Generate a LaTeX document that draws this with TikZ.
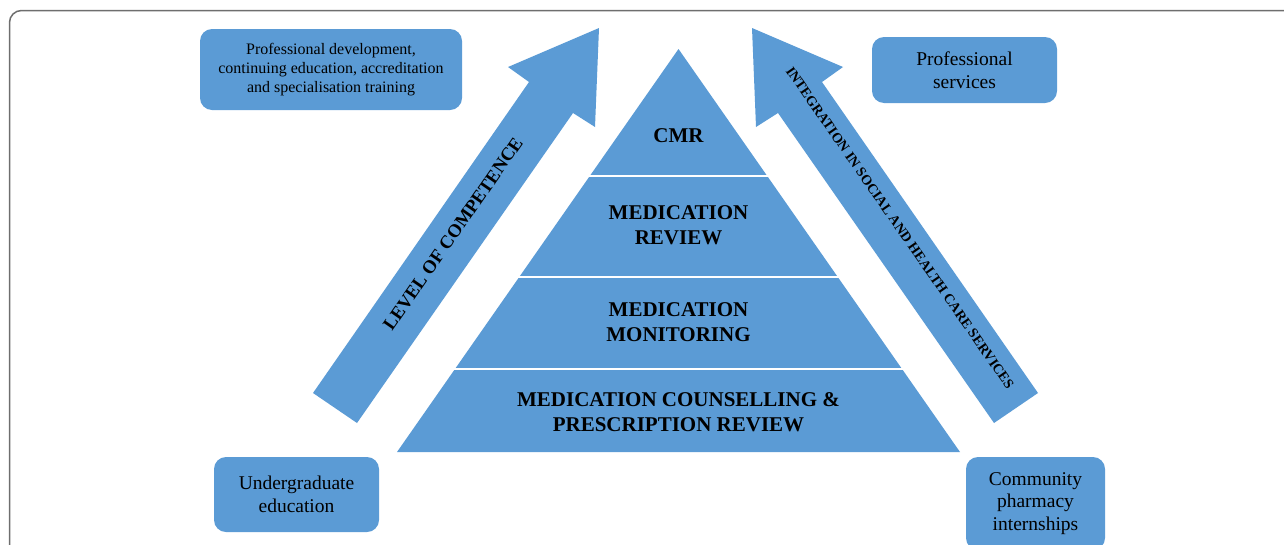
\documentclass[tikz,border=0pt]{standalone}
\usepackage{fontspec}
\setmainfont{Liberation Serif}
\definecolor{azul}{HTML}{5B9BD5}
\definecolor{marco}{HTML}{6E6E6E}
\tikzset{
	caja/.style={fill=azul, rounded corners=12pt, align=center, inner sep=0pt},
	banda/.style={font=\fontsize{21}{24.5}\selectfont\bfseries, align=center},
	letrero/.style={font=\fontsize{19.5}{22.5}\selectfont},
}

\begin{document}
\begin{tikzpicture}[x=1pt, y=-1pt]
	\useasboundingbox (0,0) rectangle (1284,544);
	\draw[marco, line width=1.5pt, rounded corners=12pt] (9.5,560) -- (9.5,10.5) -- (1290,10.5); % marco

	% flechas
	\fill[azul] (313,393) -- (529,82) -- (508,67) -- (599,28) -- (595,127) -- (573,113) -- (357,423) -- cycle;
	\fill[azul] (1038,393) -- (822,82) -- (843,67) -- (752,28) -- (756,127) -- (778,113) -- (994,423) -- cycle;
	\node[font=\fontsize{18.5}{20}\selectfont\bfseries, rotate=55.2] (competencia) at (453,234) {LEVEL OF COMPETENCE};
	\node[font=\fontsize{14}{16}\selectfont\bfseries, rotate=-55.2] (integracion) at (900,228) {INTEGRATION IN SOCIAL AND HEALTH CARE SERVICES};

	% piramide
	\fill[azul] (678.5,49) -- (960,452) -- (397,452) -- cycle;
	\foreach \y in {176,277,369}
		\draw[white, line width=2.5pt] ({675.5-0.7*(\y-49)},\y) -- ({681.5+0.7*(\y-49)},\y);
	\node[banda] (cmr) at (678.5,136) {CMR};
	\node[banda] (revision) at (678.5,225) {MEDICATION\\REVIEW};
	\node[banda] (monitoreo) at (678.5,322) {MEDICATION\\MONITORING};
	\node[banda] (consejo) at (678.5,412) {MEDICATION COUNSELLING \&\\PRESCRIPTION REVIEW};

	% cajas
	\node[caja, minimum width=262pt, minimum height=81pt, font=\fontsize{16}{19}\selectfont] (desarrollo) at (331,69.5) {Professional development,\\continuing education, accreditation\\and specialisation training};
	\node[caja, letrero, minimum width=185pt, minimum height=66pt] (servicios) at (964.5,70) {Professional\\services};
	\node[caja, letrero, minimum width=165pt, minimum height=75pt] (pregrado) at (296.5,494.5) {Undergraduate\\education};
	\node[caja, letrero, minimum width=139pt, minimum height=93pt] (practicas) at (1035.5,503.5) {Community\\pharmacy\\internships};
\end{tikzpicture}
\end{document}
